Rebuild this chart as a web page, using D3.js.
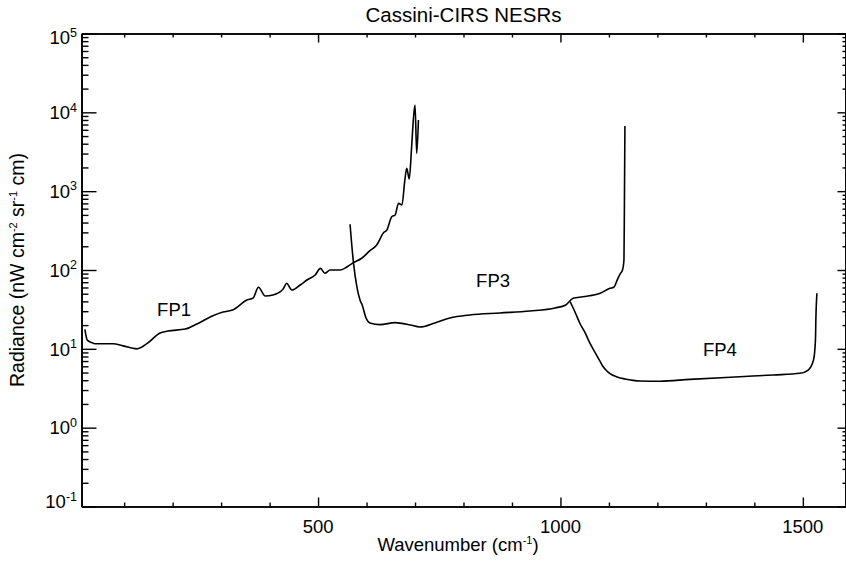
<!DOCTYPE html>
<html>
<head>
<meta charset="utf-8">
<script src="https://cdn.jsdelivr.net/npm/d3@7"></script>
<style>
  body { margin: 0; background: #fff; }
  text { font-family: "Liberation Sans", Arial, Helvetica, sans-serif; fill: #000; }
</style>
</head>
<body>
<div id="app"></div>
<script>
// NESR curves, [wavenumber (cm-1), radiance (nW cm-2 sr-1 cm)]
const fp1 = [[19,17.7],[24,12.9],[33,12.0],[40,11.6],[77,11.6],[98,10.9],[126,10.0],[149,11.9],
  [174,15.9],[190,16.8],[226,17.8],[250,20.6],[283,26.3],[304,29.3],[325,31.3],[353,41.6],
  [366,44.1],[377,60.3],[391,46.8],[407,48.2],[428,57.4],[435,67.8],[446,55.7],[463,64.5],
  [477,74.6],[494,86.4],[505,105],[514,90.8],[525,100],[545,100],[573,124],[590,141],[607,176],
  [621,207],[635,297],[642,322],[652,474],[659,499],[666,701],[673,667],[679,1385],[683,1950],
  [688,1427],[693,3660],[697,8800],[700,12400],[703.5,3020],[707,8000]];
const fp3 = [[566,380],[573,124],[580,61.4],[586.5,41.6],[591,36.0],[599,24.6],[607,21.3],
  [628,20.3],[659,21.5],[690,20.1],[710,18.9],[741,21.3],[772,24.6],[813,26.9],[875,28.5],
  [937,30.2],[989,33.0],[1011,36.0],[1026,43.7],[1046,45.8],[1082,50.6],[1102,58.6],[1110,60.3],
  [1117,74.6],[1123,88.9],[1128,100],[1131,134],[1132,773],[1133,6710]];
const fp4 = [[1020,39.6],[1030,29.3],[1040,21.1],[1051,15.9],[1061,11.7],[1071,9.1],[1082,6.87],
  [1087,6.05],[1097,5.15],[1107,4.66],[1117,4.40],[1133,4.15],[1150,3.98],[1164,3.91],[1205,3.88],
  [1267,4.10],[1370,4.43],[1439,4.66],[1494,4.89],[1511,5.38],[1522,7.21],[1526,12.9],[1527,25.5],
  [1529,50.6]];

// annotation anchors in data coords
const fpNames = ['FP1', 'FP3', 'FP4'];
const fpLabelWn = [203, 861, 1329];
const fpLabelRad = [26.3, 61.4, 8.19];

const xMajor = [500, 1000, 1500];
const xMinor = [100, 200, 300, 400, 600, 700, 800, 900, 1100, 1200, 1300, 1400];
const yExp = [-1, 0, 1, 2, 3, 4, 5];

const width = 846;
const height = 561;
const plotL = 81.5, plotR = 845.5, plotT = 33.5, plotB = 506.5;

const x = d3.scaleLinear().domain([12, 1588]).range([plotL, plotR]);
const y = d3.scaleLog().domain([0.1, 1e5]).range([plotB, plotT]);

const yMajor = yExp.map(e => Math.pow(10, e));
const yMinor = [];
yExp.slice(0, -1).forEach(e => {
  for (let k = 2; k <= 9; k++) yMinor.push(k * Math.pow(10, e));
});

const svg = d3.select('#app').append('svg')
  .attr('width', width)
  .attr('height', height);

const axisStyle = g => {
  g.select('.domain').attr('stroke', '#000').attr('stroke-width', 1.6);
  g.selectAll('.tick line').attr('stroke', '#000').attr('stroke-width', 1.4);
  g.selectAll('.tick text').remove();
};

// bottom / top
svg.append('g').attr('transform', `translate(0,${plotB})`)
  .call(d3.axisTop(x).tickValues(xMajor).tickSize(9).tickSizeOuter(0).tickFormat('')).call(axisStyle);
svg.append('g').attr('transform', `translate(0,${plotB})`)
  .call(d3.axisTop(x).tickValues(xMinor).tickSize(4).tickSizeOuter(0).tickFormat('')).call(axisStyle);
svg.append('g').attr('transform', `translate(0,${plotT})`)
  .call(d3.axisBottom(x).tickValues(xMajor).tickSize(9).tickSizeOuter(0).tickFormat('')).call(axisStyle);
svg.append('g').attr('transform', `translate(0,${plotT})`)
  .call(d3.axisBottom(x).tickValues(xMinor).tickSize(4).tickSizeOuter(0).tickFormat('')).call(axisStyle);

// left / right
svg.append('g').attr('transform', `translate(${plotL},0)`)
  .call(d3.axisRight(y).tickValues(yMajor).tickSize(15).tickSizeOuter(0).tickFormat('')).call(axisStyle);
svg.append('g').attr('transform', `translate(${plotL},0)`)
  .call(d3.axisRight(y).tickValues(yMinor).tickSize(7).tickSizeOuter(0).tickFormat('')).call(axisStyle);
svg.append('g').attr('transform', `translate(${plotR},0)`)
  .call(d3.axisLeft(y).tickValues(yMajor).tickSize(8).tickSizeOuter(0).tickFormat('')).call(axisStyle);
svg.append('g').attr('transform', `translate(${plotR},0)`)
  .call(d3.axisLeft(y).tickValues(yMinor).tickSize(3).tickSizeOuter(0).tickFormat('')).call(axisStyle);

// x tick labels
svg.append('g').selectAll('text')
  .data(xMajor)
  .join('text')
  .attr('x', d => x(d))
  .attr('y', 533)
  .attr('text-anchor', 'middle')
  .attr('font-size', 18.5)
  .text(d => d);

// y tick labels: 10^n (end labels kept inside the axis range, like IDL)
const yl = svg.append('g').selectAll('text')
  .data(yExp)
  .join('text')
  .attr('x', 77)
  .attr('y', d => y(Math.pow(10, d)) + (d === 5 ? 10.5 : d === -1 ? 1.6 : 6.8))
  .attr('text-anchor', 'end')
  .attr('font-size', 18.5);
yl.append('tspan').text('10');
yl.append('tspan').attr('font-size', 12.5).attr('dy', -7.5).text(d => d);

// curves
const line = d3.line()
  .x(d => x(d[0]))
  .y(d => y(d[1]))
  .curve(d3.curveMonotoneX);

svg.append('g').selectAll('path')
  .data([fp1, fp3, fp4])
  .join('path')
  .attr('d', line)
  .attr('fill', 'none')
  .attr('stroke', '#000')
  .attr('stroke-width', 1.6);

// FP labels
svg.append('g').selectAll('text')
  .data(fpNames)
  .join('text')
  .attr('x', (d, i) => x(fpLabelWn[i]))
  .attr('y', (d, i) => y(fpLabelRad[i]))
  .attr('text-anchor', 'middle')
  .attr('font-size', 18.5)
  .text(d => d);

// title and axis titles
svg.append('text')
  .attr('x', 463.5).attr('y', 22)
  .attr('text-anchor', 'middle')
  .attr('font-size', 20.5)
  .text('Cassini-CIRS NESRs');

const xt = svg.append('text')
  .attr('x', 458).attr('y', 551)
  .attr('text-anchor', 'middle')
  .attr('font-size', 18.5);
xt.append('tspan').text('Wavenumber (cm');
xt.append('tspan').attr('font-size', 11).attr('dy', -7).text('-1');
xt.append('tspan').attr('dy', 7).text(')');

const yt = svg.append('text')
  .attr('transform', 'translate(24,270) rotate(-90)')
  .attr('text-anchor', 'middle')
  .attr('font-size', 19.5);
yt.append('tspan').text('Radiance (nW cm');
yt.append('tspan').attr('font-size', 11).attr('dy', -7).text('-2');
yt.append('tspan').attr('dy', 7).text(' sr');
yt.append('tspan').attr('font-size', 11).attr('dy', -7).text('-1');
yt.append('tspan').attr('dy', 7).text(' cm)');
</script>
</body>
</html>
